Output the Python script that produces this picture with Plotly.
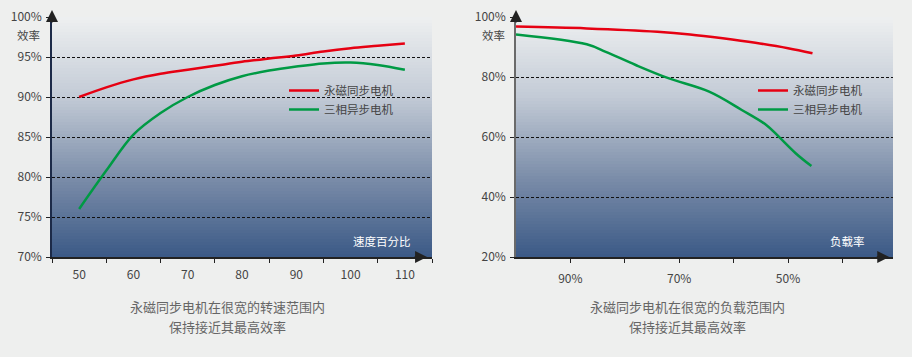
import plotly.graph_objects as go

# ---------------- data ----------------
speed_pct = [50, 55, 60, 65, 70, 75, 80, 85, 90, 95, 100, 105, 110]
speed_pm_eff = [90.0, 91.2, 92.2, 92.9, 93.4, 93.9, 94.4, 94.8, 95.2, 95.7, 96.1, 96.4, 96.7]
speed_im_eff = [76.0, 80.8, 85.3, 88.0, 90.0, 91.5, 92.6, 93.3, 93.8, 94.2, 94.3, 94.0, 93.4]

load_pm_pct = [100, 87, 74, 68, 62, 56, 50, 45.5]
load_pm_eff = [96.8, 96.2, 95.1, 94.2, 92.9, 91.4, 89.6, 87.9]
load_im_pct = [100, 87, 83.5, 78, 72, 64.5, 58.5, 54, 51.7, 48.6, 45.7]
load_im_eff = [94.2, 90.9, 88.4, 84.0, 79.6, 75.1, 69.0, 64.0, 60.1, 54.6, 50.3]

speed_ticks = [50, 60, 70, 80, 90, 100, 110]
load_ticks = [90, 80, 70, 60, 50, 40]
load_ticktext = ["90%", "", "70%", "", "50%", ""]
eff_ticks_left = [70, 75, 80, 85, 90, 95, 100]
eff_ticktext_left = ["70%", "75%", "80%", "85%", "90%", "95%", "100%"]
eff_ticks_right = [20, 40, 60, 80, 100]
eff_ticktext_right = ["20%", "40%", "60%", "80%", "100%"]

name_pm = "永磁同步电机"
name_im = "三相异步电机"
caption_left = ["永磁同步电机在很宽的转速范围内", "保持接近其最高效率"]
caption_right = ["永磁同步电机在很宽的负载范围内", "保持接近其最高效率"]

# ---------------- style ----------------
W, H = 912, 357
FONT = "Noto Sans CJK SC"
RED = "#e60012"
GREEN = "#009a44"
BG = "#eeefee"
TXT = "#444444"

fig = go.Figure()

fig.add_trace(go.Scatter(x=speed_pct, y=speed_pm_eff, name=name_pm, mode="lines",
                         line=dict(color=RED, width=2.5, shape="spline"),
                         xaxis="x", yaxis="y", legend="legend"))
fig.add_trace(go.Scatter(x=speed_pct, y=speed_im_eff, name=name_im, mode="lines",
                         line=dict(color=GREEN, width=2.5, shape="spline"),
                         xaxis="x", yaxis="y", legend="legend"))
fig.add_trace(go.Scatter(x=load_pm_pct, y=load_pm_eff, name=name_pm, mode="lines",
                         line=dict(color=RED, width=2.5, shape="spline"),
                         xaxis="x2", yaxis="y2", legend="legend2"))
fig.add_trace(go.Scatter(x=load_im_pct, y=load_im_eff, name=name_im, mode="lines",
                         line=dict(color=GREEN, width=2.5, shape="spline"),
                         xaxis="x2", yaxis="y2", legend="legend2"))

# gradient background strips
stops = [(0.0, (0x3b, 0x59, 0x86)), (0.33, (0x7b, 0x8d, 0xa9)),
         (0.67, (0xc3, 0xcb, 0xd6)), (1.0, (0xee, 0xf0, 0xf1))]


def grad(t):
    for i in range(len(stops) - 1):
        t0, c0 = stops[i]
        t1, c1 = stops[i + 1]
        if t <= t1:
            f = (t - t0) / (t1 - t0)
            return "rgb(%d,%d,%d)" % tuple(round(a + (b - a) * f) for a, b in zip(c0, c1))
    return "rgb(%d,%d,%d)" % stops[-1][1]


shapes = []
N = 80
for xr, yr in (("x domain", "y domain"), ("x2 domain", "y2 domain")):
    for i in range(N):
        y0 = i / N
        y1 = (i + 1) / N + 0.002
        shapes.append(dict(type="rect", xref=xr, yref=yr, x0=0, x1=1, y0=y0, y1=min(y1, 1),
                           fillcolor=grad((i + 0.5) / N), line=dict(width=0), layer="below"))

ydom = [100 / H, 340 / H]
grid = dict(showgrid=True, gridcolor="#111111", griddash="3px,2px", gridwidth=1)
common = dict(automargin=False, zeroline=False, tickfont=dict(size=12, color=TXT))

fig.update_layout(
    template="none",
    width=W, height=H, autosize=False,
    margin=dict(l=0, r=0, t=0, b=0, pad=0),
    paper_bgcolor=BG, plot_bgcolor=BG,
    font=dict(family=FONT, size=12, color=TXT),
    shapes=shapes,
    xaxis=dict(domain=[52 / W, 432 / W], range=[45, 115], tickvals=speed_ticks,
               ticktext=[str(v) for v in speed_ticks],
               ticks="", showgrid=False,
               showline=True, linecolor="#222222", linewidth=1.5,
               minor=dict(tick0=45, dtick=10, ticks="outside", ticklen=4,
                          tickcolor="#222222", showgrid=False),
               ticklabelstandoff=6, **common),
    yaxis=dict(domain=ydom, range=[70, 100], tickvals=eff_ticks_left,
               ticktext=eff_ticktext_left,
               ticks="outside", ticklen=4, tickcolor="#222222",
               showline=True, linecolor="#1c2a48", linewidth=1.5,
               ticklabelstandoff=2, **grid, **common),
    xaxis2=dict(domain=[516 / W, 893 / W], range=[100, 30.7], tickvals=load_ticks,
                ticktext=load_ticktext, ticks="outside", ticklen=4, tickcolor="#222222",
                showgrid=False, showline=True, linecolor="#222222",
                linewidth=1.5, anchor="y2", ticklabelstandoff=6, **common),
    yaxis2=dict(domain=ydom, range=[20, 100], tickvals=eff_ticks_right,
                ticktext=eff_ticktext_right,
                ticks="outside", ticklen=4, tickcolor="#222222",
                showline=True, linecolor="#6a6a6a", linewidth=1.5, anchor="x2",
                ticklabelstandoff=2, **grid, **common),
    legend=dict(x=284 / W, y=1 - 76 / H, xanchor="left", yanchor="top",
                bgcolor="rgba(0,0,0,0)", font=dict(size=11.5, color=TXT),
                tracegroupgap=0),
    legend2=dict(x=753 / W, y=1 - 76 / H, xanchor="left", yanchor="top",
                 bgcolor="rgba(0,0,0,0)", font=dict(size=11.5, color=TXT),
                 tracegroupgap=0),
)

ann = []
# axis arrows
for xr, yr, xpos in (("x domain", "y domain", 0.987), ("x2 domain", "y2 domain", 0.99)):
    ann.append(dict(xref=xr, yref=yr, x=xpos, y=0, ax=-14, ay=0, text="", showarrow=True,
                    arrowhead=2, arrowsize=1.6, arrowwidth=1.5, arrowcolor="#222222"))
for xr in ("x domain", "x2 domain"):
    ann.append(dict(xref=xr, yref="paper", x=0, y=1 - 10 / H, ax=0, ay=14, text="",
                    showarrow=True, arrowhead=2, arrowsize=1.6, arrowwidth=1.5,
                    arrowcolor="#222222"))


def label(x, y, text, size, color):
    ann.append(dict(xref="paper", yref="paper", x=x / W, y=1 - y / H, text=text,
                    xanchor="center", yanchor="middle", showarrow=False,
                    font=dict(size=size, color=color)))


# axis name labels
label(28, 35, "效率", 11.5, TXT)
label(494, 35, "效率", 11.5, TXT)
label(382, 241, "速度百分比", 11.5, "#ffffff")
label(847, 241, "负载率", 11.5, "#ffffff")
# captions
for i, line in enumerate(caption_left):
    label(227, 306 + 20 * i, line, 13, "#666666")
for i, line in enumerate(caption_right):
    label(687, 306 + 20 * i, line, 13, "#666666")
fig.update_layout(annotations=ann)

post = (
    "document.body.style.margin='0';document.body.style.padding='0';"
    "document.body.style.overflow='hidden';"
    "document.body.style.background='" + BG + "';"
)
fig.write_html("out.html", config={"responsive": False, "displayModeBar": False},
               post_script=post)
